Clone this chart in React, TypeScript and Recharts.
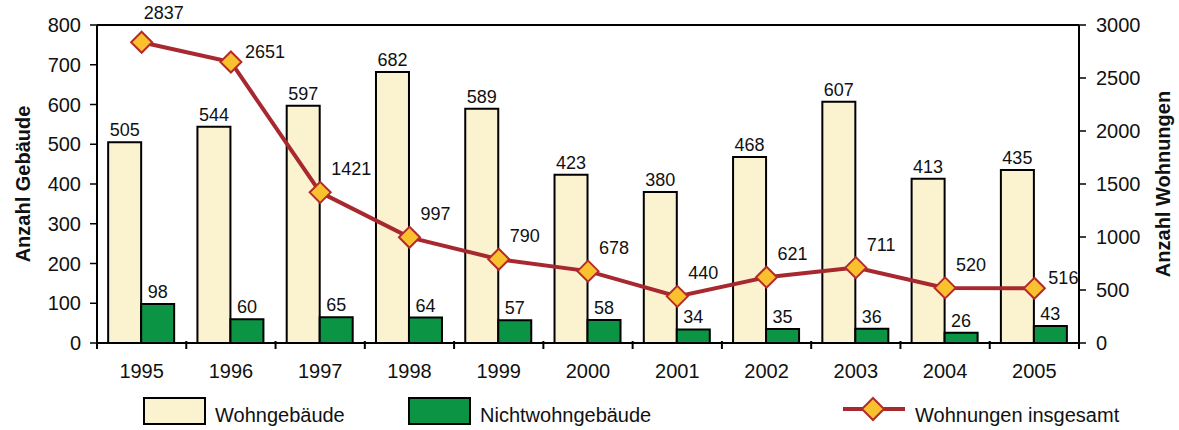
import React from 'react';
import {
  ComposedChart,
  Bar,
  Line,
  XAxis,
  YAxis,
  LabelList,
  Label,
  ReferenceLine,
} from 'recharts';

const years = ['1995', '1996', '1997', '1998', '1999', '2000', '2001', '2002', '2003', '2004', '2005'];
const wohngebaeude = [505, 544, 597, 682, 589, 423, 380, 468, 607, 413, 435];
const nichtwohngebaeude = [98, 60, 65, 64, 57, 58, 34, 35, 36, 26, 43];
const wohnungen = [2837, 2651, 1421, 997, 790, 678, 440, 621, 711, 520, 516];

const leftTicks = [0, 100, 200, 300, 400, 500, 600, 700, 800];
const rightTicks = [0, 500, 1000, 1500, 2000, 2500, 3000];

const data = years.map((year, i) => ({
  year,
  wohn: wohngebaeude[i],
  nicht: nichtwohngebaeude[i],
  wohnungen: wohnungen[i],
}));

const FONT = '"Liberation Sans", Arial, sans-serif';
const CREAM = '#FBF2CF';
const GREEN = '#0B9444';
const LINE_RED = '#A7282E';
const DIAMOND = '#F8C12D';
const X_TICK_GAP = 21; // tickSize + tickMargin of the year axis

const Diamond = (props: any) => {
  const { cx, cy } = props;
  if (cx == null || cy == null) return null;
  const r = 10.5;
  return (
    <polygon
      points={`${cx},${cy - r} ${cx + r},${cy} ${cx},${cy + r} ${cx - r},${cy}`}
      fill={DIAMOND}
      stroke="#B52A2A"
      strokeWidth={2}
    />
  );
};

// year label plus tick marks on the category boundaries
const YearTick = (props: any) => {
  const { x, y, payload, index } = props;
  const half = payload?.offset || 0;
  const axisY = y - X_TICK_GAP;
  return (
    <g>
      {half > 0 && (
        <line x1={x - half} y1={axisY - 2} x2={x - half} y2={axisY + 6} stroke="#000" strokeWidth={2} />
      )}
      {half > 0 && index === years.length - 1 && (
        <line x1={x + half} y1={axisY - 2} x2={x + half} y2={axisY + 6} stroke="#000" strokeWidth={2} />
      )}
      <text x={x} y={y} dy="0.71em" textAnchor="middle" fontSize={20} fontFamily={FONT} fill="#111">
        {payload.value}
      </text>
    </g>
  );
};

// where each Wohnungen label sits relative to its point
const LineLabel = (props: any) => {
  const { x, y, value, index } = props;
  let tx = x + 11;
  let ty = y - 17;
  if (index === 0) {
    tx = x + 2;
    ty = y - 23;
  } else if (index === 1 || index === years.length - 1) {
    tx = x + 14;
    ty = y - 4;
  }
  return (
    <text x={tx} y={ty} textAnchor="start" fontSize={18} fontFamily={FONT} fill="#111">
      {value}
    </text>
  );
};

const axisTitle = (text: string, x: number) => (p: any) => {
  const vb = p.viewBox;
  const cy = vb.y + vb.height / 2;
  return (
    <text
      x={x}
      y={cy}
      dy="0.35em"
      transform={`rotate(-90, ${x}, ${cy})`}
      textAnchor="middle"
      fontSize={20}
      fontWeight="bold"
      fontFamily={FONT}
      fill="#111"
    >
      {text}
    </text>
  );
};

const App = () => {
  return (
    <div style={{ position: 'absolute', left: 0, top: 0, width: 1179, height: 430 }}>
      <ComposedChart
        width={1179}
        height={430}
        data={data}
        margin={{ top: 25, right: 0, bottom: 86, left: 0 }}
        barGap={0}
        barCategoryGap="12.5%"
      >
        <XAxis
          dataKey="year"
          height={1}
          interval={0}
          tickLine={false}
          tickSize={6}
          tickMargin={15}
          axisLine={{ stroke: '#000', strokeWidth: 2 }}
          tick={<YearTick />}
        />
        <YAxis
          yAxisId="left"
          width={97}
          domain={[0, 800]}
          ticks={leftTicks}
          tickSize={7}
          tickMargin={9}
          axisLine={{ stroke: '#000', strokeWidth: 2 }}
          tickLine={{ stroke: '#000', strokeWidth: 1.5 }}
          tick={{ fontSize: 20, fontFamily: FONT, fill: '#111' }}
        >
          <Label content={axisTitle('Anzahl Gebäude', 23)} />
        </YAxis>
        <YAxis
          yAxisId="right"
          orientation="right"
          width={100}
          domain={[0, 3000]}
          ticks={rightTicks}
          tickSize={7}
          tickMargin={10}
          axisLine={{ stroke: '#000', strokeWidth: 2 }}
          tickLine={{ stroke: '#000', strokeWidth: 1.5 }}
          tick={{ fontSize: 20, fontFamily: FONT, fill: '#111' }}
        >
          <Label content={axisTitle('Anzahl Wohnungen', 1163)} />
        </YAxis>
        <ReferenceLine yAxisId="left" y={800} stroke="#000" strokeWidth={2} />
        <Bar
          yAxisId="left"
          dataKey="wohn"
          name="Wohngebäude"
          fill={CREAM}
          stroke="#000"
          strokeWidth={2}
          isAnimationActive={false}
        >
          <LabelList dataKey="wohn" position="top" offset={6} fontSize={18} fontFamily={FONT} fill="#111" />
        </Bar>
        <Bar
          yAxisId="left"
          dataKey="nicht"
          name="Nichtwohngebäude"
          fill={GREEN}
          stroke="#000"
          strokeWidth={2}
          isAnimationActive={false}
        >
          <LabelList dataKey="nicht" position="top" offset={6} fontSize={18} fontFamily={FONT} fill="#111" />
        </Bar>
        <Line
          yAxisId="right"
          dataKey="wohnungen"
          name="Wohnungen insgesamt"
          stroke={LINE_RED}
          strokeWidth={4}
          dot={<Diamond />}
          activeDot={false}
          isAnimationActive={false}
        >
          <LabelList dataKey="wohnungen" content={<LineLabel />} />
        </Line>
      </ComposedChart>

      <div style={{ position: 'absolute', left: 0, top: 0, width: 1179, height: 430, pointerEvents: 'none', fontFamily: FONT, fontSize: 20, color: '#111' }}>
        <div style={{ position: 'absolute', left: 143, top: 397, width: 59, height: 24, background: CREAM, border: '2px solid #000' }} />
        <div style={{ position: 'absolute', left: 215, top: 404, lineHeight: '23px' }}>Wohngebäude</div>
        <div style={{ position: 'absolute', left: 408, top: 397, width: 59, height: 24, background: GREEN, border: '2px solid #000' }} />
        <div style={{ position: 'absolute', left: 480, top: 404, lineHeight: '23px' }}>Nichtwohngebäude</div>
        <svg style={{ position: 'absolute', left: 843, top: 396 }} width={62} height={28}>
          <line x1={0} y1={13} x2={62} y2={13} stroke={LINE_RED} strokeWidth={4} />
          <polygon points="30,2 41,13 30,24 19,13" fill={DIAMOND} stroke="#B52A2A" strokeWidth={2} />
        </svg>
        <div style={{ position: 'absolute', left: 915, top: 404, lineHeight: '23px' }}>Wohnungen insgesamt</div>
      </div>
    </div>
  );
};

export default App;
